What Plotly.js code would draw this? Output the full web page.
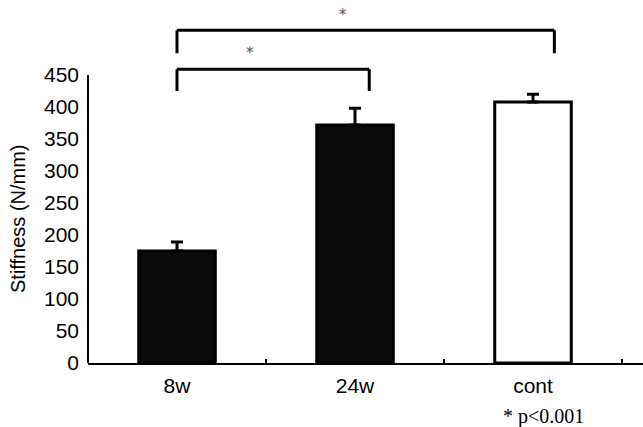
<!DOCTYPE html>
<html>
<head>
<meta charset="utf-8">
<script src="https://cdn.plot.ly/plotly-3.0.1.min.js"></script>
<style>html,body{margin:0;padding:0;background:#fff;}#chart{width:643px;height:427px;}</style>
</head>
<body>
<div id="chart"></div>
<script>
// Data
var categories = ['8w', '24w', 'cont'];
var stiffness = [175, 372, 408];
var stiffnessSD = [14, 26, 12];
var barFill = ['#0b0b0b', '#0b0b0b', '#ffffff'];
var yTicks = [0, 50, 100, 150, 200, 250, 300, 350, 400, 450];
var yTitle = 'Stiffness (N/mm)';
// significance brackets
var brackets = [
  {x0: 0, x1: 1.08, top: 459, bottom: 425, starX: 0.41, starY: 484},
  {x0: 0, x1: 2.12, top: 520, bottom: 484, starX: 0.93, starY: 544}
];
var noteText = '* p<0.001';

var trace = {
  type: 'bar',
  x: categories,
  y: stiffness,
  width: 0.43,
  marker: {color: barFill, line: {color: '#000', width: 3}},
  error_y: {type: 'data', symmetric: false, array: stiffnessSD, arrayminus: [0, 0, 0],
            color: '#000', thickness: 3, width: 6},
  hoverinfo: 'none'
};

var shapes = [
  {type: 'line', xref: 'paper', yref: 'y', x0: 0, x1: 0, y0: 0, y1: 450, line: {color: '#000', width: 2}}
];
var annotations = [];
brackets.forEach(function (b) {
  var ln = {color: '#000', width: 3};
  shapes.push({type: 'line', xref: 'x', yref: 'y', x0: b.x0, x1: b.x1, y0: b.top, y1: b.top, line: ln});
  shapes.push({type: 'line', xref: 'x', yref: 'y', x0: b.x0, x1: b.x0, y0: b.top, y1: b.bottom, line: ln});
  shapes.push({type: 'line', xref: 'x', yref: 'y', x0: b.x1, x1: b.x1, y0: b.top, y1: b.bottom, line: ln});
  annotations.push({xref: 'x', yref: 'y', x: b.starX, y: b.starY, text: '*', showarrow: false,
    font: {family: 'DejaVu Sans, sans-serif', size: 15, color: '#555'}});
});
annotations.push({xref: 'paper', yref: 'paper', x: 0.82, y: -0.15, xanchor: 'center', yanchor: 'middle',
  text: noteText, showarrow: false, font: {family: 'Liberation Serif, Times New Roman, serif', size: 20, color: '#000'}});
annotations.push({xref: 'paper', yref: 'y', x: 0, y: 225, xshift: -70, xanchor: 'center', yanchor: 'middle',
  textangle: -90, text: yTitle, showarrow: false, font: {size: 20, color: '#000'}});

var layout = {
  width: 643, height: 427,
  margin: {l: 88, r: 0, t: 5, b: 64},
  paper_bgcolor: '#fff', plot_bgcolor: '#fff',
  font: {family: 'Liberation Sans, Arial, sans-serif', size: 21, color: '#000'},
  showlegend: false,
  xaxis: {
    type: 'category', range: [-0.5, 2.618], showline: true, linecolor: '#000', linewidth: 2,
    ticks: 'inside', tickson: 'boundaries', ticklen: 4, tickwidth: 2, tickcolor: '#000',
    showgrid: false, zeroline: false, fixedrange: true, ticklabelstandoff: 3
  },
  yaxis: {
    range: [0, 559.4], tickvals: yTicks, ticks: '', showline: false, showgrid: false, zeroline: false,
    ticklabelstandoff: 8
  },
  shapes: shapes,
  annotations: annotations
};

Plotly.newPlot('chart', [trace], layout, {staticPlot: true, displayModeBar: false});
</script>
</body>
</html>
